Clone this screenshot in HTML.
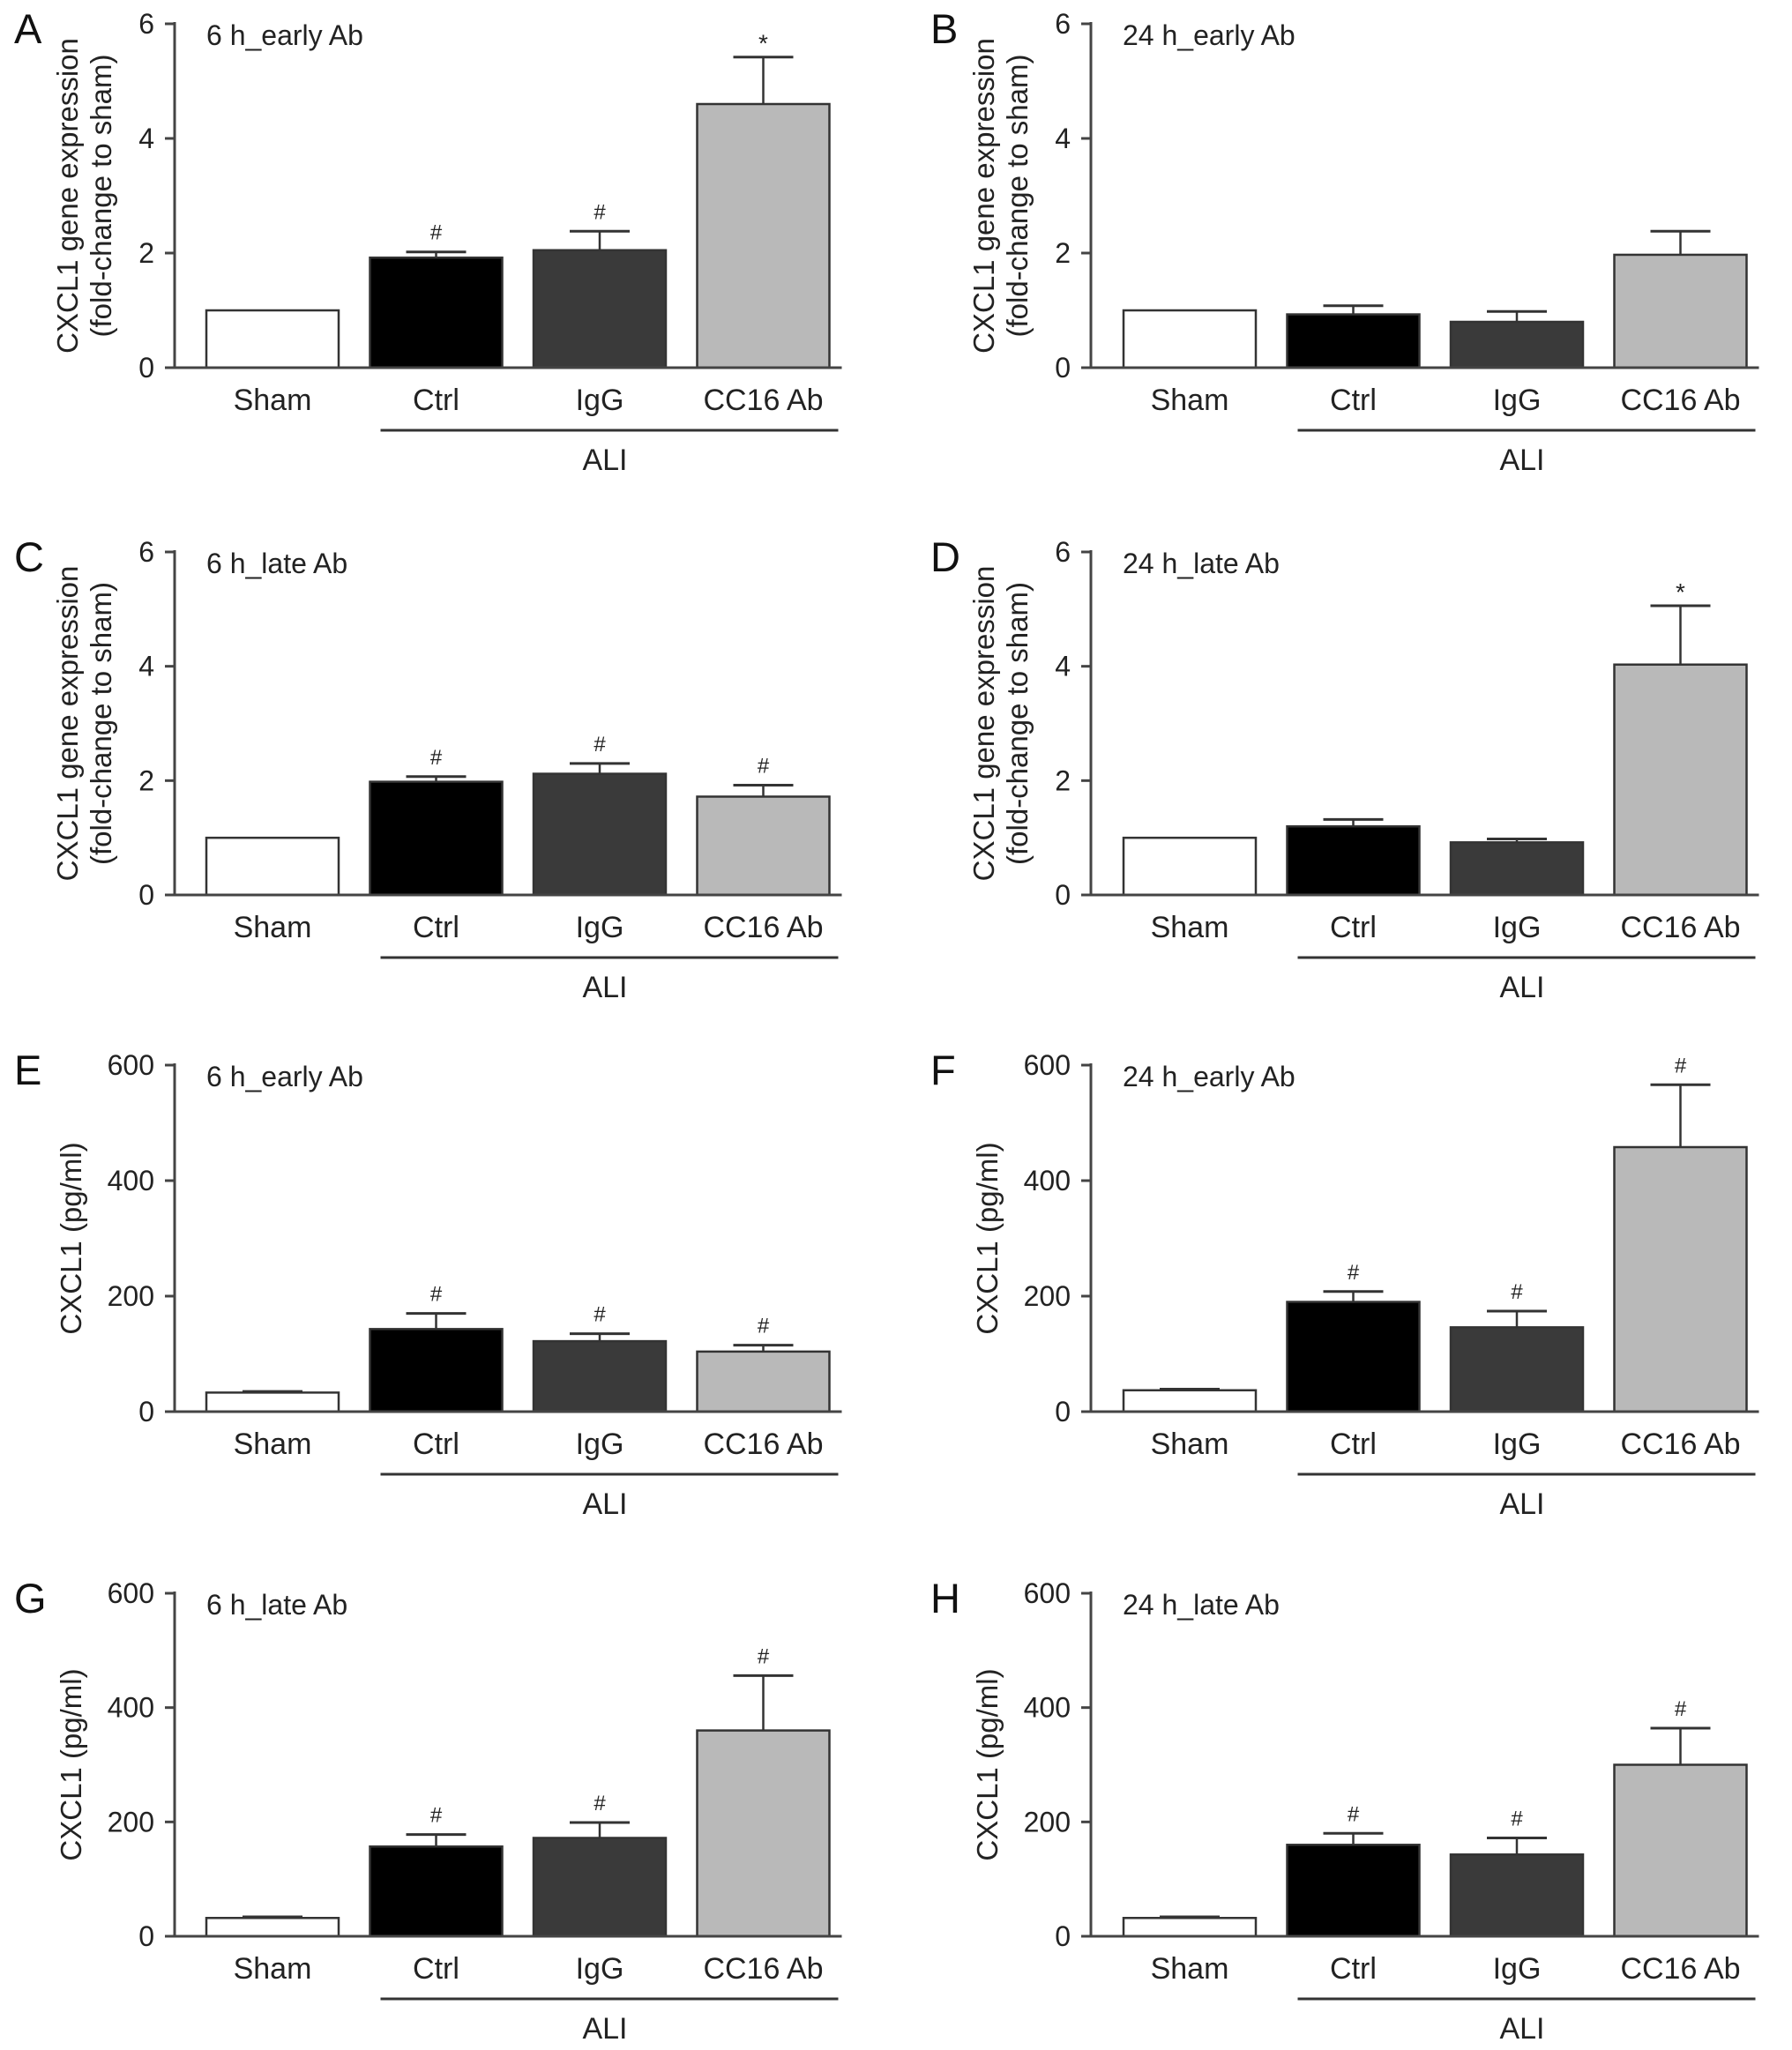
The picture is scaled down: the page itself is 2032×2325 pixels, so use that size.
<!DOCTYPE html>
<html><head><meta charset="utf-8">
<style>
html,body{margin:0;padding:0;background:#fff;}
svg{display:block;font-family:"Liberation Sans",Arial,sans-serif;}
</style></head>
<body>
<svg id="fig" width="2032" height="2325" viewBox="0 0 2032 2325" xmlns="http://www.w3.org/2000/svg"></svg>
<script>
const categories = ["Sham","Ctrl","IgG","CC16 Ab"];
const panelLetters = ["A","B","C","D","E","F","G","H"];
const panelTitles = ["6 h_early Ab","24 h_early Ab","6 h_late Ab","24 h_late Ab","6 h_early Ab","24 h_early Ab","6 h_late Ab","24 h_late Ab"];
const yMax = [6,6,6,6,600,600,600,600];
const yTicksGene = [0,2,4,6];
const yTicksPg = [0,200,400,600];
const valsA = [1.0,1.92,2.05,4.6];   const errA = [1.0,2.02,2.38,5.42]; const sigA = ["","#","#","*"];
const valsB = [1.0,0.93,0.8,1.97];   const errB = [1.0,1.08,0.98,2.38]; const sigB = ["","","",""];
const valsC = [1.0,1.98,2.12,1.72];  const errC = [1.0,2.07,2.3,1.92];  const sigC = ["","#","#","#"];
const valsD = [1.0,1.2,0.92,4.03];   const errD = [1.0,1.32,0.98,5.06]; const sigD = ["","","","*"];
const valsE = [33,143,122,104];      const errE = [35,170,135,115];     const sigE = ["","#","#","#"];
const valsF = [37,190,146,458];      const errF = [39,208,174,566];     const sigF = ["","#","#","#"];
const valsG = [32,157,172,360];      const errG = [34,178,199,456];     const sigG = ["","#","#","#"];
const valsH = [32,160,143,300];      const errH = [34,180,172,364];     const sigH = ["","#","#","#"];

const allVals=[valsA,valsB,valsC,valsD,valsE,valsF,valsG,valsH];
const allErr=[errA,errB,errC,errD,errE,errF,errG,errH];
const allSig=[sigA,sigB,sigC,sigD,sigE,sigF,sigG,sigH];
const fills=["#ffffff","#000000","#3a3a3a","#b9b9b9"];
const NS="http://www.w3.org/2000/svg";
const svg=document.getElementById('fig');
function mk(tag,attrs,parent){const e=document.createElementNS(NS,tag);for(const k in attrs)e.setAttribute(k,attrs[k]);(parent||svg).appendChild(e);return e;}

const rowTop=[27,626,1208,1807];
const rowZero=[417,1015,1601,2196];
const colAxis=[198,1237];
const colBar0=[234,1274];
const pitch=185.5, barW=150;

for(let p=0;p<8;p++){
  const col=p%2,row=Math.floor(p/2);
  const ax=colAxis[col],top=rowTop[row],zero=rowZero[row];
  const g=mk('g',{});
  
  
  const y=v=>zero-(v/yMax[p])*(zero-top);
  const xb=i=>colBar0[col]+i*pitch;
  let t=mk('text',{x:ax-182,y:top+22,'font-size':47,fill:'#111'},g);t.textContent=panelLetters[p];
  
  t=mk('text',{x:ax+36,y:top+24,'font-size':32,fill:'#222'},g);t.textContent=panelTitles[p];
  
  const yl=mk('line',{x1:ax,y1:top-2,x2:ax,y2:zero,stroke:'#444','stroke-width':3},g);
  
  const ticks=yMax[p]===6?yTicksGene:yTicksPg;
  ticks.forEach(tv=>{
    const ty=y(tv);
    mk('line',{x1:ax-11,y1:ty,x2:ax,y2:ty,stroke:'#444','stroke-width':3},g);
    const tt=mk('text',{x:ax-23,y:ty+11,'font-size':32,'text-anchor':'end',fill:'#222'},g);
    tt.textContent=tv;
    
  });
  const midY=(top+zero)/2;
  if(yMax[p]===6){
    let a=mk('text',{x:0,y:0,'font-size':33,'text-anchor':'middle',fill:'#222',transform:`translate(${ax-110},${midY}) rotate(-90)`},g);a.textContent='CXCL1 gene expression';
    
    a=mk('text',{x:0,y:0,'font-size':33,'text-anchor':'middle',fill:'#222',transform:`translate(${ax-72},${midY}) rotate(-90)`},g);a.textContent='(fold-change to sham)';
    
  } else {
    let a=mk('text',{x:0,y:0,'font-size':33,'text-anchor':'middle',fill:'#222',transform:`translate(${ax-106},${midY}) rotate(-90)`},g);a.textContent='CXCL1 (pg/ml)';
    
  }
  for(let i=0;i<4;i++){
    const v=allVals[p][i],e=allErr[p][i],x0=xb(i),cx=x0+barW/2;
    if(e>v){
      mk('line',{x1:cx,y1:y(v),x2:cx,y2:y(e),stroke:'#333','stroke-width':2.5},g);
      mk('line',{x1:cx-34,y1:y(e),x2:cx+34,y2:y(e),stroke:'#333','stroke-width':3},g);
    }
    const r=mk('rect',{x:x0,y:y(v),width:barW,height:zero-y(v),fill:fills[i],stroke:'#333','stroke-width':2.5},g);
    
    
    if(allSig[p][i]){
      const s=mk('text',{x:cx,y:y(e)-(allSig[p][i]==='*'?6:14),'font-size':allSig[p][i]==='*'?28:24,'text-anchor':'middle',fill:'#222'},g);
      s.textContent=allSig[p][i];
      
    }
    const c=mk('text',{x:cx,y:zero+48,'font-size':34,'text-anchor':'middle',fill:'#222'},g);
    c.textContent=categories[i];
    
  }
  const xl=mk('line',{x1:ax-11,y1:zero,x2:xb(3)+barW+14,y2:zero,stroke:'#444','stroke-width':3},g);
  
  const bl=mk('line',{x1:xb(1)+12,y1:zero+71,x2:xb(3)+barW+10,y2:zero+71,stroke:'#333','stroke-width':3},g);
  
  const al=mk('text',{x:(xb(1)+xb(3)+barW)/2+6,y:zero+116,'font-size':34,'text-anchor':'middle',fill:'#222'},g);
  al.textContent='ALI';
  
}
</script>
</body></html>
